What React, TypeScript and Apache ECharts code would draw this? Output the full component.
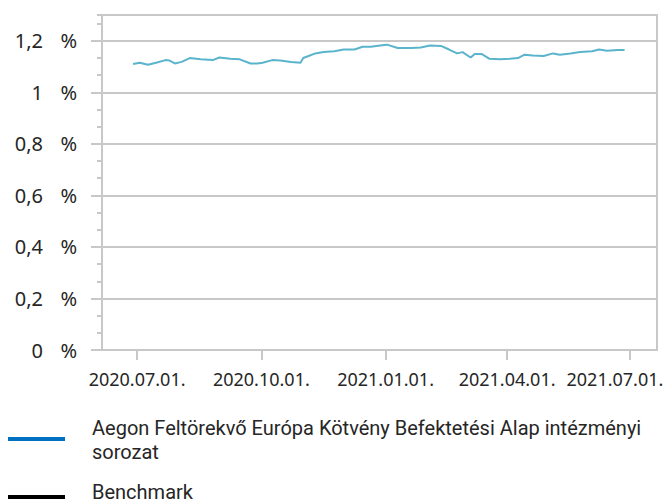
import React, { useEffect, useRef } from "react";
import * as echarts from "echarts";

const axisStart = "2020-06-05";
const axisEnd = "2021-07-21";
const tickDates = ["2020-07-01", "2020-10-01", "2021-01-01", "2021-04-01", "2021-07-01"];
const tickLabels = ["2020.07.01.", "2020.10.01.", "2021.01.01.", "2021.04.01.", "2021.07.01."];
const yTicks = [0, 0.2, 0.4, 0.6, 0.8, 1, 1.2];
const yTickLabels = ["0", "0,2", "0,4", "0,6", "0,8", "1", "1,2"];

const fundDates = [
  "2020-06-28", "2020-07-03", "2020-07-09", "2020-07-15", "2020-07-22", "2020-07-25", "2020-07-29",
  "2020-08-03", "2020-08-09", "2020-08-17", "2020-08-26", "2020-08-31", "2020-09-08", "2020-09-15",
  "2020-09-23", "2020-09-28", "2020-10-02", "2020-10-09", "2020-10-15", "2020-10-23", "2020-10-30",
  "2020-11-01", "2020-11-05", "2020-11-10", "2020-11-16", "2020-11-24", "2020-12-01", "2020-12-09",
  "2020-12-15", "2020-12-21", "2020-12-28", "2021-01-02", "2021-01-10", "2021-01-20", "2021-01-27",
  "2021-02-03", "2021-02-11", "2021-02-17", "2021-02-23", "2021-02-27", "2021-03-05", "2021-03-08",
  "2021-03-13", "2021-03-19", "2021-03-27", "2021-04-03", "2021-04-09", "2021-04-14", "2021-04-20",
  "2021-04-28", "2021-05-05", "2021-05-10", "2021-05-18", "2021-05-25", "2021-06-03", "2021-06-08",
  "2021-06-14", "2021-06-22", "2021-06-27",
];
const fundValues = [
  1.110, 1.115, 1.107, 1.115, 1.125, 1.123, 1.112,
  1.118, 1.133, 1.128, 1.125, 1.135, 1.130, 1.128,
  1.112, 1.112, 1.115, 1.125, 1.123, 1.118, 1.115,
  1.133, 1.141, 1.151, 1.156, 1.159, 1.166, 1.166,
  1.177, 1.177, 1.182, 1.185, 1.172, 1.172, 1.174,
  1.182, 1.180, 1.166, 1.151, 1.156, 1.135, 1.149,
  1.149, 1.130, 1.128, 1.130, 1.133, 1.146, 1.143,
  1.141, 1.151, 1.146, 1.151, 1.156, 1.159, 1.166,
  1.161, 1.164, 1.164,
];

const seriesNames = ["Aegon Feltörekvő Európa Kötvény Befektetési Alap intézményi sorozat", "Benchmark"];
const legendLines = ["Aegon Feltörekvő Európa Kötvény Befektetési Alap intézményi", "sorozat"];

function buildDays(start: string, end: string): string[] {
  const out: string[] = [];
  const d = new Date(start + "T00:00:00Z");
  const e = new Date(end + "T00:00:00Z");
  while (d.getTime() <= e.getTime()) {
    out.push(d.toISOString().slice(0, 10));
    d.setUTCDate(d.getUTCDate() + 1);
  }
  return out;
}

const FONT = "Noto Sans";
const LEGEND_FONT = "20px Roboto";
const GRID = "#c8c8c8";
const TEXT = "#262626";

export default function App() {
  const ref = useRef<HTMLDivElement>(null);
  useEffect(() => {
    if (!ref.current) return;
    const chart = echarts.init(ref.current, null, { renderer: "svg" });
    const days = buildDays(axisStart, axisEnd);
    const isTick = (_i: number, v: string) => tickDates.indexOf(v) >= 0;
    chart.setOption({
      animation: false,
      backgroundColor: "#ffffff",
      grid: {
        left: 102,
        right: 7,
        top: 15,
        bottom: 150,
        show: true,
        borderColor: GRID,
        borderWidth: 2,
        containLabel: false,
        outerBoundsMode: "none",
      },
      xAxis: {
        type: "category",
        data: days,
        boundaryGap: false,
        axisLine: { lineStyle: { color: GRID, width: 2 } },
        axisTick: { show: true, interval: isTick, length: 10, lineStyle: { color: GRID, width: 2 } },
        axisLabel: {
          interval: isTick,
          margin: 20,
          color: TEXT,
          fontFamily: FONT,
          fontSize: 18,
          hideOverlap: false,
          formatter: (v: string) => {
            const i = tickDates.indexOf(v);
            if (i < 0) return "";
            if (i === tickDates.length - 1) return "{last|" + tickLabels[i] + "}";
            return tickLabels[i];
          },
          rich: {
            last: { width: 127, align: "left", fontFamily: FONT, fontSize: 18, color: TEXT },
          },
        },
        splitLine: { show: false },
      },
      yAxis: [
        {
          type: "value",
          min: 0,
          max: 1.3,
          interval: 0.2,
          axisLine: { show: true, lineStyle: { color: GRID, width: 2 } },
          axisTick: { show: true, length: 11, lineStyle: { color: GRID, width: 2 } },
          splitLine: { show: true, lineStyle: { color: GRID, width: 2 } },
          axisLabel: {
            showMaxLabel: false,
            margin: 25,
            formatter: (v: number) => {
              const idx = yTicks.findIndex((t) => Math.abs(t - v) < 1e-6);
              if (idx < 0) return "";
              return "{n|" + yTickLabels[idx] + "}{p|%}";
            },
            rich: {
              n: { width: 43, align: "right", fontFamily: FONT, fontSize: 20, color: TEXT },
              p: { width: 34, align: "right", fontFamily: FONT, fontSize: 20, color: TEXT },
            },
          },
        },
        {
          type: "value",
          min: 0,
          max: 1.3,
          interval: 0.2 / 3,
          position: "left",
          axisLine: { show: false },
          axisTick: { show: true, length: 5, lineStyle: { color: GRID, width: 2 } },
          splitLine: { show: false },
          axisLabel: { show: false },
        },
      ],
      series: [
        {
          name: seriesNames[0],
          type: "line",
          yAxisIndex: 0,
          showSymbol: false,
          symbol: "none",
          lineStyle: { color: "#5ab4cc", width: 2 },
          data: fundDates.map((d, i) => [d, fundValues[i]]),
        },
      ],
      graphic: [
        {
          type: "line",
          shape: { x1: 8, y1: 439, x2: 65, y2: 439 },
          style: { stroke: "#0070c0", lineWidth: 4 },
        },
        {
          type: "text",
          x: 92,
          y: 416,
          style: {
            text: legendLines.join("\n"),
            font: LEGEND_FONT,
            lineHeight: 24,
            fill: TEXT,
          },
        },
        {
          type: "line",
          shape: { x1: 8, y1: 497, x2: 65, y2: 497 },
          style: { stroke: "#000000", lineWidth: 4 },
        },
        {
          type: "text",
          x: 92,
          y: 480,
          style: {
            text: seriesNames[1],
            font: LEGEND_FONT,
            lineHeight: 24,
            fill: TEXT,
          },
        },
      ],
    });
    return () => chart.dispose();
  }, []);
  return (
    <div
      ref={ref}
      style={{ position: "fixed", left: 0, top: 0, width: 664, height: 500 }}
    />
  );
}
